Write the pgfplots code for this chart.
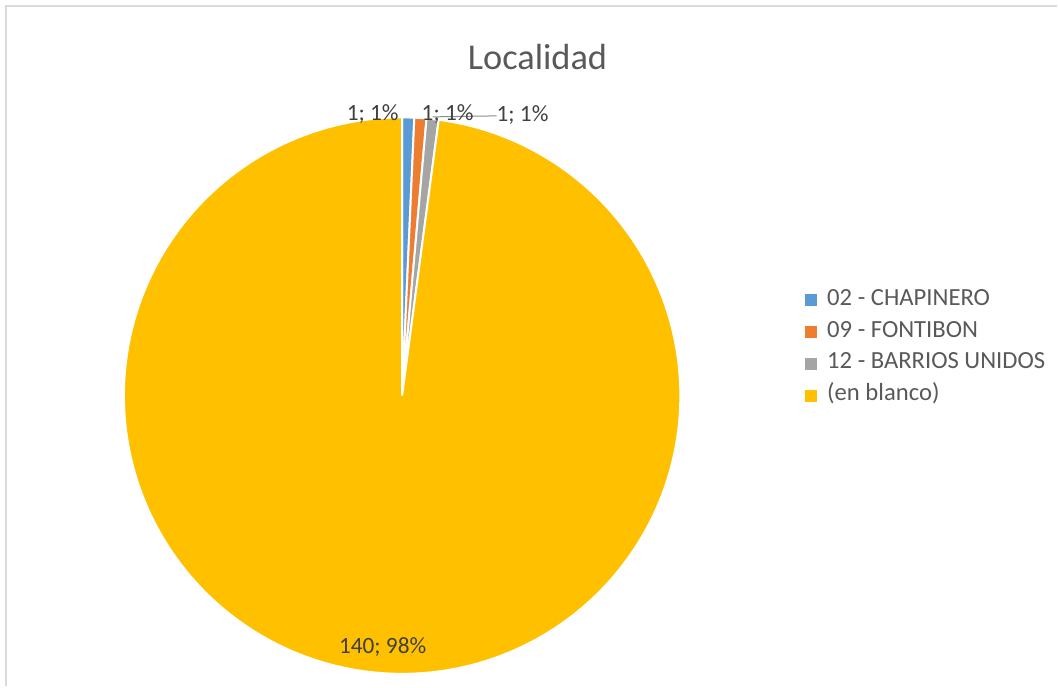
\documentclass[border=0pt]{standalone}
\usepackage{pgfplots}
\usepackage{pgfplotstable}
\pgfplotsset{compat=1.18}
\usepackage{fontspec}
\setmainfont{Carlito}
\definecolor{cBlue}{HTML}{5B9BD5}
\definecolor{cOrange}{HTML}{ED7D31}
\definecolor{cGray}{HTML}{A5A5A5}
\definecolor{cYellow}{HTML}{FFC000}
\definecolor{txt}{HTML}{595959}
\definecolor{lbl}{HTML}{404040}
\definecolor{frame}{HTML}{D9D9D9}
\definecolor{leader}{HTML}{8C8C8C}

\pgfplotstableread{
id value
A 1
B 1
C 1
D 140
}\datatable
\pgfplotstablegetelem{0}{value}\of\datatable \let\va\pgfplotsretval
\pgfplotstablegetelem{1}{value}\of\datatable \let\vb\pgfplotsretval
\pgfplotstablegetelem{2}{value}\of\datatable \let\vc\pgfplotsretval
\pgfplotstablegetelem{3}{value}\of\datatable \let\vd\pgfplotsretval
\pgfmathsetmacro\tot{\va+\vb+\vc+\vd}
\pgfmathsetmacro\aB{360*\va/\tot}
\pgfmathsetmacro\aC{360*(\va+\vb)/\tot}
\pgfmathsetmacro\aD{360*(\va+\vb+\vc)/\tot}
\def\cx{402.5}
\def\cy{291}
\def\rr{278.5}

\begin{document}
\begin{tikzpicture}
\begin{axis}[
  width=793.5pt, height=515.25pt, scale only axis,
  xmin=0, xmax=1058, ymin=0, ymax=687,
  hide axis, clip=false,
  legend image code/.code={\fill[#1, draw=none] (0pt,-4.5pt) rectangle (9pt,4.5pt);},
  legend cell align=left,
  legend style={draw=none, fill=none, inner sep=0pt, outer sep=0pt,
    at={(axis cs:806,339)}, anchor=west,
    font=\fontsize{18.5}{21}\selectfont\color{txt},
    nodes={inner sep=0pt, text height=12pt, text depth=4pt},
    row sep=8pt, column sep=7.5pt},
]
\addplot[fill=cBlue, draw=white, line width=1.5pt, domain=0:\aB, samples=10, variable=\t]
  ({\cx+\rr*sin(t)},{\cy+\rr*cos(t)}) -- (axis cs:\cx,\cy) -- cycle;
\addlegendentry{02 - CHAPINERO}
\addplot[fill=cOrange, draw=white, line width=1.5pt, domain=\aB:\aC, samples=10, variable=\t]
  ({\cx+\rr*sin(t)},{\cy+\rr*cos(t)}) -- (axis cs:\cx,\cy) -- cycle;
\addlegendentry{09 - FONTIBON}
\addplot[fill=cGray, draw=white, line width=1.5pt, domain=\aC:\aD, samples=10, variable=\t]
  ({\cx+\rr*sin(t)},{\cy+\rr*cos(t)}) -- (axis cs:\cx,\cy) -- cycle;
\addlegendentry{12 - BARRIOS UNIDOS}
\addplot[fill=cYellow, draw=white, line width=1.5pt, domain=\aD:360, samples=300, variable=\t]
  ({\cx+\rr*sin(t)},{\cy+\rr*cos(t)}) -- (axis cs:\cx,\cy) -- cycle;
\addlegendentry{(en blanco)}
% frame and bbox
\addplot[draw=frame, line width=1.5pt, forget plot] coordinates {(6.5,0) (6.5,680.5) (1058,680.5)};
\addplot[draw=none, forget plot] coordinates {(0,0) (1058,687)};
% leader line
\addplot[draw=leader, line width=0.75pt, forget plot] coordinates {(433,570) (497,571)};
% labels
\node[font=\fontsize{27.3}{30}\selectfont, text=txt] at (axis cs:538,630) {Localidad};
\node[font=\fontsize{17.5}{20}\selectfont, text=lbl] at (axis cs:373,573) {1; 1\%};
\node[font=\fontsize{17.5}{20}\selectfont, text=lbl] at (axis cs:448,573) {1; 1\%};
\node[font=\fontsize{17.5}{20}\selectfont, text=lbl] at (axis cs:523,572) {1; 1\%};
\node[font=\fontsize{17.5}{20}\selectfont, text=lbl] at (axis cs:383,39) {140; 98\%};
\end{axis}
\end{tikzpicture}
\end{document}
